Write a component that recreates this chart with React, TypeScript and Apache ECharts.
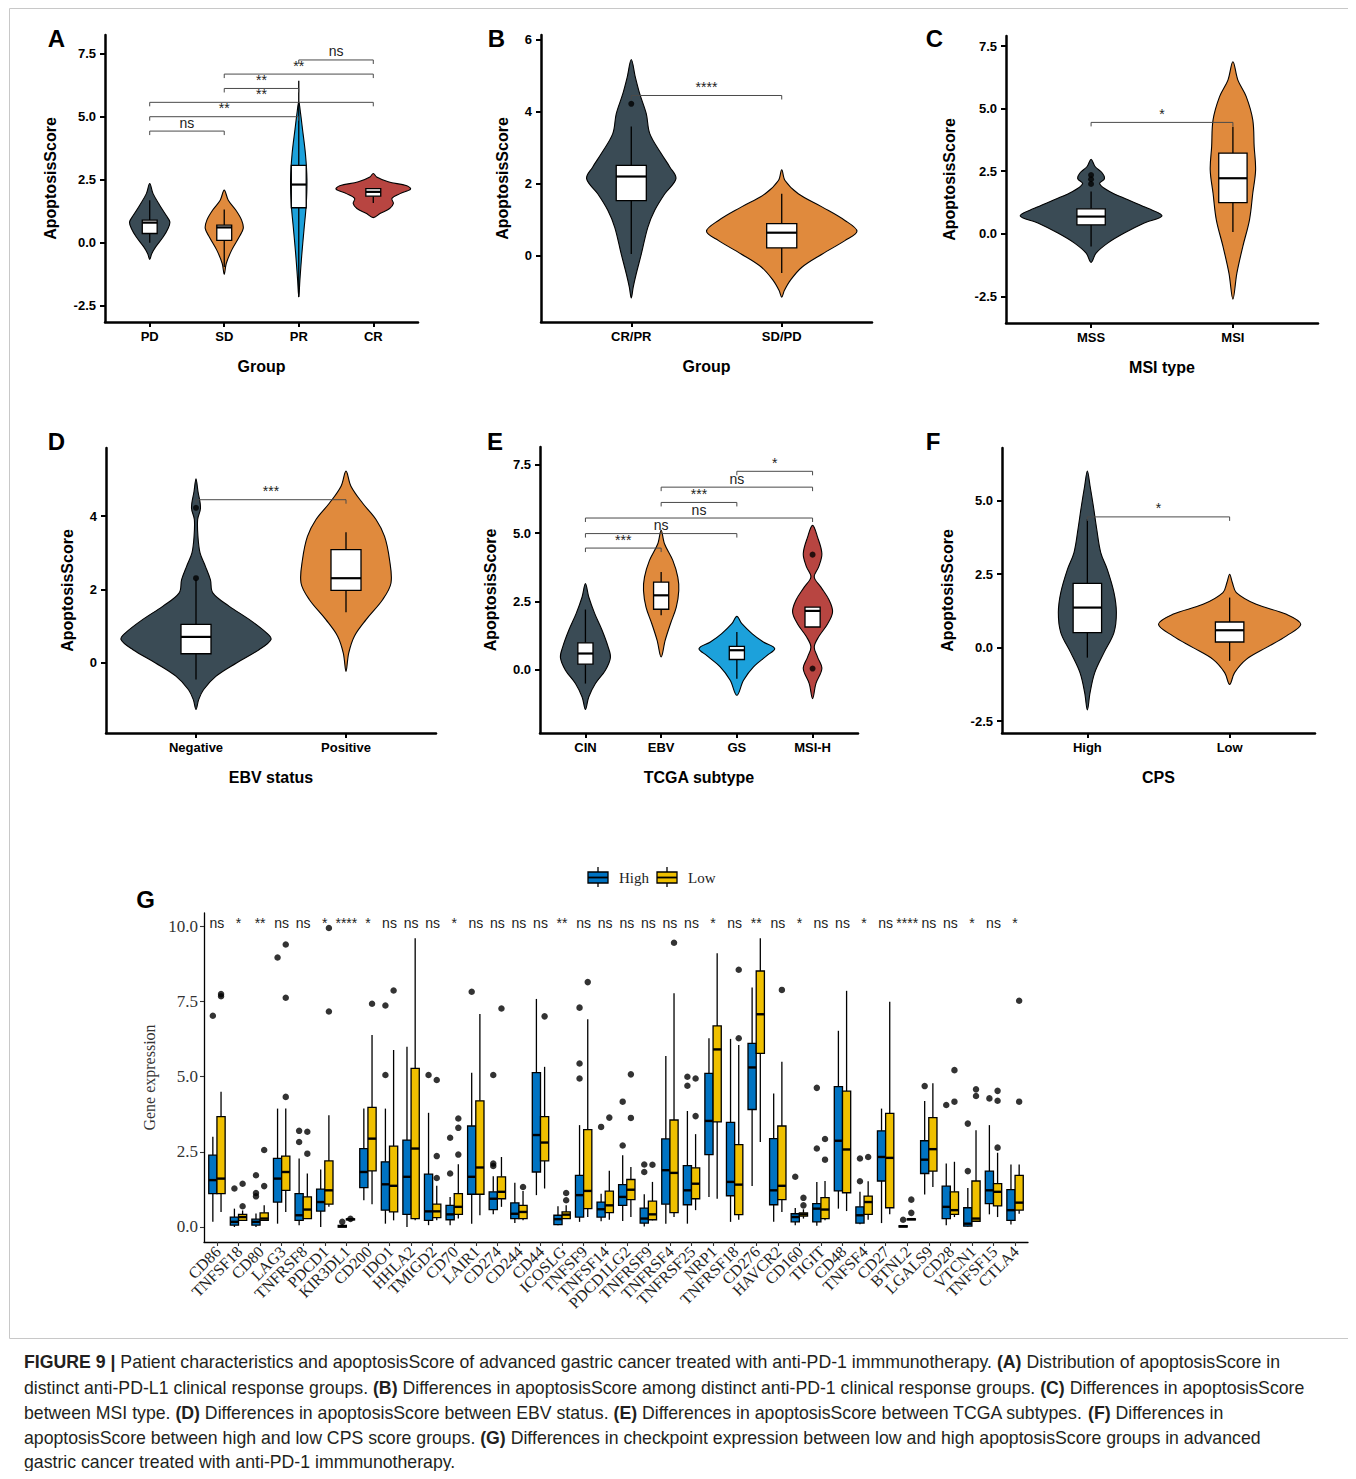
import React, { useEffect, useRef } from 'react';
import * as echarts from 'echarts';

const SANS = '"Liberation Sans", Arial, Helvetica, sans-serif';
const SERIF = '"Liberation Serif", "Times New Roman", Times, serif';
const SLATE = '#3A4B55';
const ORANGE = '#E08A3D';
const SKY = '#1CA1DB';
const RED = '#B84541';
const HIGH_BLUE = '#0073C2';
const LOW_YELLOW = '#EFC000';

// ---------- Panel A ----------
const A_cats = ['PD', 'SD', 'PR', 'CR'];
const A_violins = [
  [[2.34, 0], [1.94, 0.045], [1.48, 0.134], [1.08, 0.22], [0.82, 0.27], [0.56, 0.246], [0.22, 0.18], [-0.17, 0.08], [-0.44, 0.027], [-0.67, 0]],
  [[2.08, 0], [1.68, 0.054], [1.28, 0.157], [0.89, 0.233], [0.56, 0.255], [0.22, 0.2], [-0.3, 0.1], [-0.83, 0.027], [-1.26, 0]],
  [[5.58, 0], [5.1, 0.025], [4.5, 0.05], [3.5, 0.09], [2.5, 0.11], [1.5, 0.1], [0.5, 0.07], [-0.5, 0.04], [-1.5, 0.015], [-2.16, 0]],
  [[2.74, 0], [2.6, 0.045], [2.41, 0.2], [2.25, 0.45], [2.12, 0.5], [1.94, 0.36], [1.75, 0.25], [1.55, 0.27], [1.35, 0.22], [1.15, 0.09], [0.99, 0]],
];
const A_boxes = [[-0.01, 0.36, 0.79, 0.89, 1.68], [-0.97, 0.09, 0.6, 0.69, 1.31], [-2.16, 1.38, 2.3, 3.06, 6.42], [1.57, 1.84, 2.01, 2.14, 2.14]];
const A_outliers: number[][] = [];
const A_brackets = [[1, 2, 4.42], [1, 3, 4.99], [1, 4, 5.56], [2, 3, 6.11], [2, 4, 6.68], [3, 4, 7.24]];
const A_bracketLabels = ['ns', '**', '**', '**', '**', 'ns'];
const A_yTicks = [-2.5, 0, 2.5, 5, 7.5];

// ---------- Panel B ----------
const B_cats = ['CR/PR', 'SD/PD'];
const B_violins = [
  [[5.45, 0], [4.96, 0.027], [4.5, 0.056], [3.94, 0.1], [3.39, 0.123], [2.83, 0.2], [2.46, 0.257], [2.14, 0.297], [1.72, 0.223], [1.26, 0.156], [0.79, 0.11], [0.05, 0.067], [-0.5, 0.033], [-0.87, 0.013], [-1.17, 0]],
  [[2.39, 0], [2.09, 0.022], [1.72, 0.11], [1.35, 0.27], [0.98, 0.42], [0.68, 0.5], [0.42, 0.42], [0.05, 0.27], [-0.32, 0.134], [-0.69, 0.056], [-0.96, 0.018], [-1.15, 0]],
];
const B_boxes = [[0.05, 1.53, 2.2, 2.51, 3.59], [-0.48, 0.22, 0.64, 0.89, 1.72]];
const B_outliers = [[1, 4.22]];
const B_brackets = [[1, 2, 4.45]];
const B_bracketLabels = ['****'];
const B_yTicks = [0, 2, 4, 6];

// ---------- Panel C ----------
const C_cats = ['MSS', 'MSI'];
const C_violins = [
  [[2.98, 0], [2.69, 0.028], [2.42, 0.08], [2.2, 0.094], [2.0, 0.06], [1.69, 0.13], [1.36, 0.26], [1.02, 0.4], [0.72, 0.5], [0.43, 0.375], [0.03, 0.234], [-0.37, 0.117], [-0.77, 0.035], [-1.14, 0]],
  [[6.87, 0], [6.14, 0.035], [5.48, 0.094], [4.55, 0.14], [3.48, 0.15], [2.55, 0.16], [1.62, 0.14], [0.56, 0.117], [-0.5, 0.07], [-1.57, 0.028], [-2.61, 0]],
];
const C_boxes = [[-0.51, 0.36, 0.69, 1.0, 1.69], [0.07, 1.25, 2.22, 3.22, 4.28]];
const C_outliers = [[1, 2.35], [1, 2.18], [1, 1.99]];
const C_brackets = [[1, 2, 4.45]];
const C_bracketLabels = ['*'];
const C_yTicks = [-2.5, 0, 2.5, 5, 7.5];

// ---------- Panel D ----------
const D_cats = ['Negative', 'Positive'];
const D_violins = [
  [[5.02, 0], [4.68, 0.013], [4.23, 0.03], [3.91, 0.011], [3.45, 0.013], [3.0, 0.027], [2.64, 0.062], [2.27, 0.096], [1.91, 0.112], [1.55, 0.22], [1.18, 0.357], [0.82, 0.47], [0.64, 0.5], [0.36, 0.42], [0, 0.27], [-0.36, 0.134], [-0.73, 0.05], [-1.0, 0.018], [-1.27, 0]],
  [[5.23, 0], [4.82, 0.033], [4.36, 0.11], [3.91, 0.2], [3.45, 0.257], [2.82, 0.29], [2.18, 0.3], [1.73, 0.245], [1.18, 0.134], [0.73, 0.056], [0.27, 0.018], [-0.23, 0]],
];
const D_boxes = [[-0.45, 0.25, 0.71, 1.05, 2.27], [1.38, 1.98, 2.31, 3.09, 3.56]];
const D_outliers = [[1, 2.31], [1, 4.23]];
const D_brackets = [[1, 2, 4.45]];
const D_bracketLabels = ['***'];
const D_yTicks = [0, 2, 4];

// ---------- Panel E ----------
const E_cats = ['CIN', 'EBV', 'GS', 'MSI-H'];
const E_violins = [
  [[3.15, 0], [2.66, 0.044], [2.05, 0.123], [1.44, 0.22], [0.83, 0.3], [0.44, 0.33], [-0.02, 0.264], [-0.51, 0.132], [-1.0, 0.044], [-1.46, 0]],
  [[5.1, 0], [4.61, 0.044], [4.0, 0.154], [3.39, 0.22], [2.9, 0.233], [2.29, 0.2], [1.68, 0.123], [1.07, 0.053], [0.46, 0]],
  [[1.95, 0], [1.68, 0.066], [1.32, 0.2], [1.01, 0.35], [0.77, 0.5], [0.52, 0.4], [0.1, 0.22], [-0.39, 0.088], [-0.94, 0]],
  [[5.28, 0], [4.85, 0.066], [4.24, 0.123], [3.76, 0.08], [3.39, 0.022], [3.02, 0.11], [2.54, 0.22], [2.11, 0.264], [1.68, 0.2], [1.2, 0.08], [0.83, 0.022], [0.46, 0.066], [0.04, 0.123], [-0.51, 0.044], [-1.06, 0]],
];
const E_boxes = [[-0.51, 0.2, 0.59, 0.98, 2.2], [1.99, 2.21, 2.72, 3.2, 3.57], [-0.33, 0.37, 0.71, 0.85, 1.38], [1.56, 1.56, 2.15, 2.29, 2.29]];
const E_outliers = [[4, 4.21], [4, 0.04]];
const E_brackets = [[1, 2, 4.45], [1, 3, 4.98], [1, 4, 5.55], [2, 3, 6.12], [2, 4, 6.68], [3, 4, 7.26]];
const E_bracketLabels = ['***', 'ns', 'ns', '***', 'ns', '*'];
const E_yTicks = [0, 2.5, 5, 7.5];

// ---------- Panel F ----------
const F_cats = ['High', 'Low'];
const F_violins = [
  [[6.0, 0], [5.49, 0.019], [4.81, 0.042], [4.02, 0.066], [3.23, 0.094], [2.66, 0.14], [1.87, 0.187], [1.19, 0.204], [0.51, 0.187], [-0.17, 0.117], [-0.85, 0.052], [-1.53, 0.019], [-2.12, 0]],
  [[2.49, 0], [2.21, 0.019], [1.87, 0.047], [1.47, 0.187], [1.13, 0.4], [0.79, 0.5], [0.4, 0.4], [0, 0.257], [-0.4, 0.117], [-0.85, 0.035], [-1.25, 0]],
];
const F_boxes = [[-0.34, 0.51, 1.36, 2.18, 4.36], [-0.45, 0.19, 0.59, 0.87, 1.7]];
const F_outliers: number[][] = [];
const F_brackets = [[1, 2, 4.44]];
const F_bracketLabels = ['*'];
const F_yTicks = [-2.5, 0, 2.5, 5];

// ---------- Panel G ----------
const G_genes = ['CD86', 'TNFSF18', 'CD80', 'LAG3', 'TNFRSF8', 'PDCD1', 'KIR3DL1', 'CD200', 'IDO1', 'HHLA2', 'TMIGD2', 'CD70', 'LAIR1', 'CD274', 'CD244', 'CD44', 'ICOSLG', 'TNFSF9', 'TNFSF14', 'PDCD1LG2', 'TNFRSF9', 'TNFRSF4', 'TNFRSF25', 'NRP1', 'TNFRSF18', 'CD276', 'HAVCR2', 'CD160', 'TIGIT', 'CD48', 'TNFSF4', 'CD27', 'BTNL2', 'LGALS9', 'CD28', 'VTCN1', 'TNFSF15', 'CTLA4'];
const G_sig = ['ns', '*', '**', 'ns', 'ns', '*', '****', '*', 'ns', 'ns', 'ns', '*', 'ns', 'ns', 'ns', 'ns', '**', 'ns', 'ns', 'ns', 'ns', 'ns', 'ns', '*', 'ns', '**', 'ns', '*', 'ns', 'ns', '*', 'ns', '****', 'ns', 'ns', '*', 'ns', '*'];
// [whisker low, Q1, median, Q3, whisker high]
const G_high = [
  [0.17, 1.11, 1.56, 2.39, 3.0], [0, 0.06, 0.17, 0.33, 0.61], [0, 0.06, 0.17, 0.26, 0.45], [0.11, 0.83, 1.61, 2.28, 3.94],
  [0.06, 0.22, 0.39, 1.11, 2.28], [0, 0.53, 0.83, 1.26, 1.91], [0, 0, 0.02, 0.05, 0.08], [0.89, 1.31, 1.83, 2.61, 3.94],
  [0.11, 0.56, 1.42, 2.17, 3.94], [0, 0.42, 1.67, 2.89, 6.0], [0.06, 0.22, 0.52, 1.76, 3.8], [0.06, 0.24, 0.42, 0.72, 1.0],
  [0.11, 1.09, 1.67, 3.36, 5.13], [0.42, 0.58, 0.94, 1.17, 1.69], [0.13, 0.28, 0.44, 0.8, 1.47], [1.06, 1.83, 3.06, 5.14, 7.59],
  [0.06, 0.08, 0.26, 0.39, 0.69], [0.17, 0.33, 1.06, 1.72, 3.39], [0.19, 0.33, 0.59, 0.83, 1.11], [0.2, 0.72, 1.0, 1.41, 2.39],
  [0.02, 0.13, 0.28, 0.63, 1.09], [0.11, 0.76, 1.89, 2.93, 5.69], [0.11, 0.74, 1.22, 2.04, 3.86], [1.0, 2.41, 3.53, 5.11, 6.28],
  [0.17, 1.04, 1.5, 3.48, 6.26], [1.36, 3.91, 5.31, 6.11, 7.97], [0.17, 0.74, 1.22, 2.94, 4.44], [0.06, 0.17, 0.33, 0.44, 0.63],
  [0.04, 0.17, 0.61, 0.78, 1.5], [0.61, 1.2, 2.87, 4.67, 6.53], [0.09, 0.13, 0.39, 0.67, 1.17], [0.13, 1.53, 2.33, 3.2, 3.94],
  [0, 0, 0.02, 0.04, 0.06], [1.08, 1.78, 2.24, 2.87, 4.19], [0.06, 0.28, 0.67, 1.36, 2.11], [0.02, 0.03, 0.11, 0.64, 1.3],
  [0.42, 0.78, 1.22, 1.86, 3.39], [0.08, 0.22, 0.56, 1.24, 2.08],
];
const G_low = [
  [0.5, 1.11, 1.61, 3.67, 4.5], [0.22, 0.22, 0.33, 0.42, 0.55], [0.22, 0.22, 0.28, 0.47, 0.72], [0.5, 1.22, 1.83, 2.36, 3.94],
  [0.28, 0.28, 0.58, 1.0, 1.78], [0.67, 0.76, 1.22, 2.2, 3.72], [0.24, 0.25, 0.26, 0.27, 0.28], [0.76, 1.87, 2.94, 3.98, 6.39],
  [0.22, 0.5, 1.37, 2.69, 5.89], [0.22, 0.28, 2.61, 5.28, 9.61], [0.22, 0.31, 0.52, 0.76, 1.37], [0.28, 0.42, 0.67, 1.11, 2.09],
  [0.39, 1.09, 1.98, 4.2, 7.09], [0.67, 0.94, 1.17, 1.67, 2.33], [0.22, 0.28, 0.5, 0.72, 1.2], [1.28, 2.2, 2.81, 3.67, 5.33],
  [0.28, 0.28, 0.41, 0.5, 0.72], [0.33, 0.61, 1.2, 3.24, 6.91], [0.24, 0.48, 0.72, 1.19, 1.87], [0.33, 0.91, 1.24, 1.58, 2.0],
  [0.22, 0.24, 0.42, 0.86, 1.5], [0.33, 0.48, 1.8, 3.56, 7.78], [0.56, 0.94, 1.44, 1.97, 3.09], [0.94, 3.5, 5.91, 6.69, 9.11],
  [0.24, 0.41, 1.41, 2.74, 6.06], [2.83, 5.78, 7.08, 8.52, 9.61], [0.5, 0.91, 1.37, 3.36, 5.5], [0.28, 0.36, 0.42, 0.47, 0.59],
  [0.22, 0.28, 0.58, 0.98, 1.53], [0.53, 1.14, 2.58, 4.52, 7.86], [0.24, 0.42, 0.83, 1.03, 1.52], [0.42, 0.64, 2.3, 3.78, 7.5],
  [0.24, 0.25, 0.26, 0.27, 0.28], [1.33, 1.86, 2.59, 3.64, 4.78], [0.33, 0.42, 0.56, 1.17, 2.17], [0.17, 0.19, 0.28, 1.53, 3.22],
  [0.33, 0.7, 1.17, 1.44, 2.47], [0.44, 0.56, 0.81, 1.72, 2.08],
];
const G_highOut = [
  [7.03], [1.28], [1.02, 1.13, 1.72], [8.97], [2.83, 3.2], [], [0.17], [], [5.06, 7.37], [], [5.06], [1.78, 2.97], [7.83],
  [2.03, 2.11, 5.06], [], [], [], [4.94, 5.44, 7.3], [3.33], [2.71, 4.17], [1.83, 2.08], [], [4.7, 5.0], [], [], [], [],
  [1.67], [2.61, 4.63], [], [1.52, 2.28], [], [0.24], [4.69], [4.06], [1.86, 3.44], [4.28], [],
];
const G_lowOut = [
  [7.68, 7.75], [0.69, 1.44], [1.36, 2.56], [4.33, 7.63, 9.4], [2.44, 3.17], [7.17, 9.95], [0.27], [7.43], [7.87], [],
  [1.63, 2.36, 4.89], [2.41, 3.3, 3.61], [], [7.27], [1.33], [7.01], [0.89, 1.13], [8.15], [3.64], [3.63, 5.08], [2.07],
  [9.46], [3.69, 4.94], [], [6.28, 8.56], [], [7.89], [0.72, 0.97], [2.24, 2.93], [], [2.33], [], [0.47, 0.91], [],
  [4.17, 5.22], [4.36, 4.58], [2.64, 4.2, 4.53], [4.17, 7.53],
];
const G_yTicks = [0, 2.5, 5, 7.5, 10];

const CAPTION = [
  '{b|FIGURE 9 |} Patient characteristics and apoptosisScore of advanced gastric cancer treated with anti-PD-1 immmunotherapy. {b|(A)} Distribution of apoptosisScore in',
  'distinct anti-PD-L1 clinical response groups. {b|(B)} Differences in apoptosisScore among distinct anti-PD-1 clinical response groups. {b|(C)} Differences in apoptosisScore',
  'between MSI type. {b|(D)} Differences in apoptosisScore between EBV status. {b|(E)} Differences in apoptosisScore between TCGA subtypes. {b|(F)} Differences in',
  'apoptosisScore between high and low CPS score groups. {b|(G)} Differences in checkpoint expression between low and high apoptosisScore groups in advanced',
  'gastric cancer treated with anti-PD-1 immmunotherapy.',
];

type PanelDef = {
  letter: string; lx: number; ly: number;
  left: number; top: number; width: number; height: number;
  ymin: number; ymax: number; yTicks: number[]; dec: number; yGap: number;
  cats: string[]; xName: string; colors: string[];
  violins: number[][][]; boxes: number[][]; outliers: number[][];
  brackets: number[][]; bracketLabels: string[];
};

const PANELS: PanelDef[] = [
  { letter: 'A', lx: 48.5, ly: 30.5, left: 97, top: 27, width: 313, height: 287, ymin: -3.15, ymax: 8.23, yTicks: A_yTicks, dec: 1, yGap: 47, cats: A_cats, xName: 'Group', colors: [SLATE, ORANGE, SKY, RED], violins: A_violins, boxes: A_boxes, outliers: A_outliers, brackets: A_brackets, bracketLabels: A_bracketLabels },
  { letter: 'B', lx: 488.5, ly: 30.5, left: 533, top: 27, width: 331, height: 287, ymin: -1.84, ymax: 6.13, yTicks: B_yTicks, dec: 0, yGap: 31, cats: B_cats, xName: 'Group', colors: [SLATE, ORANGE], violins: B_violins, boxes: B_boxes, outliers: B_outliers, brackets: B_brackets, bracketLabels: B_bracketLabels },
  { letter: 'C', lx: 926.5, ly: 30, left: 998, top: 28, width: 312, height: 287, ymin: -3.56, ymax: 7.9, yTicks: C_yTicks, dec: 1, yGap: 49, cats: C_cats, xName: 'MSI type', colors: [SLATE, ORANGE], violins: C_violins, boxes: C_boxes, outliers: C_outliers, brackets: C_brackets, bracketLabels: C_bracketLabels },
  { letter: 'D', lx: 48.5, ly: 433, left: 98, top: 440, width: 330, height: 285, ymin: -1.91, ymax: 5.86, yTicks: D_yTicks, dec: 0, yGap: 31, cats: D_cats, xName: 'EBV status', colors: [SLATE, ORANGE], violins: D_violins, boxes: D_boxes, outliers: D_outliers, brackets: D_brackets, bracketLabels: D_bracketLabels },
  { letter: 'E', lx: 487, ly: 433, left: 532, top: 439, width: 318, height: 286, ymin: -2.32, ymax: 8.15, yTicks: E_yTicks, dec: 1, yGap: 42, cats: E_cats, xName: 'TCGA subtype', colors: [SLATE, ORANGE, SKY, RED], violins: E_violins, boxes: E_boxes, outliers: E_outliers, brackets: E_brackets, bracketLabels: E_bracketLabels },
  { letter: 'F', lx: 925, ly: 433, left: 994, top: 440, width: 313, height: 285, ymin: -2.9, ymax: 6.78, yTicks: F_yTicks, dec: 1, yGap: 47, cats: F_cats, xName: 'CPS', colors: [SLATE, ORANGE], violins: F_violins, boxes: F_boxes, outliers: F_outliers, brackets: F_brackets, bracketLabels: F_bracketLabels },
];

function boxRenderer(stats: number[][], halfW: number, fill: (i: number) => string, lw: number, medW: number) {
  return (params: any, api: any) => {
    const i = params.dataIndex;
    const x = api.value(0) as number;
    const [lo, q1, med, q3, hi] = stats[i];
    const tl = api.coord([x - halfW, q3]);
    const br = api.coord([x + halfW, q1]);
    const mL = api.coord([x - halfW, med]);
    const mR = api.coord([x + halfW, med]);
    const top = api.coord([x, hi]);
    const q3p = api.coord([x, q3]);
    const q1p = api.coord([x, q1]);
    const bot = api.coord([x, lo]);
    const stroke = '#000';
    return {
      type: 'group',
      children: [
        { type: 'line', shape: { x1: top[0], y1: top[1], x2: q3p[0], y2: q3p[1] }, style: { stroke, lineWidth: lw } },
        { type: 'line', shape: { x1: q1p[0], y1: q1p[1], x2: bot[0], y2: bot[1] }, style: { stroke, lineWidth: lw } },
        { type: 'rect', shape: { x: tl[0], y: tl[1], width: br[0] - tl[0], height: Math.max(br[1] - tl[1], 1) }, style: { fill: fill(i), stroke, lineWidth: lw } },
        { type: 'line', shape: { x1: mL[0], y1: mL[1], x2: mR[0], y2: mR[1] }, style: { stroke, lineWidth: medW } },
      ],
    };
  };
}

function buildOption() {
  const grid: any[] = [];
  const xAxis: any[] = [];
  const yAxis: any[] = [];
  const series: any[] = [];
  const graphic: any[] = [];

  PANELS.forEach((p, gi) => {
    grid.push({ left: p.left, top: p.top, width: p.width, height: p.height });
    const xt = p.cats.map((_, i) => i + 1);
    xAxis.push({
      type: 'value', gridIndex: gi, min: 0.4, max: p.cats.length + 0.6,
      axisLine: { show: true, onZero: false, lineStyle: { color: '#000', width: 2.5 } },
      axisTick: { show: true, customValues: xt, length: 5, lineStyle: { color: '#000', width: 2 } },
      axisLabel: { show: true, customValues: xt, formatter: (v: number) => p.cats[Math.round(v) - 1] ?? '', color: '#000', fontFamily: SANS, fontWeight: 'bold', fontSize: 13, margin: 8 },
      splitLine: { show: false },
      name: p.xName, nameLocation: 'middle', nameGap: 36,
      nameTextStyle: { color: '#000', fontFamily: SANS, fontWeight: 'bold', fontSize: 16 },
    });
    yAxis.push({
      type: 'value', gridIndex: gi, min: p.ymin, max: p.ymax,
      axisLine: { show: true, onZero: false, lineStyle: { color: '#000', width: 2.5 } },
      axisTick: { show: true, customValues: p.yTicks, length: 5, lineStyle: { color: '#000', width: 2 } },
      axisLabel: { show: true, customValues: p.yTicks, formatter: (v: number) => v.toFixed(p.dec), color: '#000', fontFamily: SANS, fontWeight: 'bold', fontSize: 13, margin: 9 },
      splitLine: { show: false },
      name: 'ApoptosisScore', nameLocation: 'middle', nameGap: p.yGap,
      nameTextStyle: { color: '#000', fontFamily: SANS, fontWeight: 'bold', fontSize: 16 },
    });
    // violins
    series.push({
      type: 'custom', xAxisIndex: gi, yAxisIndex: gi, z: 2, clip: false,
      data: p.violins.map((_, i) => [i + 1, 0]), encode: { x: 0, y: 1 },
      renderItem: (params: any, api: any) => {
        const i = params.dataIndex;
        const x = i + 1;
        const prof = p.violins[i];
        const right = prof.map(([v, hw]) => api.coord([x + hw, v]));
        const left = prof.slice().reverse().map(([v, hw]) => api.coord([x - hw, v]));
        const pts = right.concat(left.slice(1, -1));
        return { type: 'polygon', shape: { points: pts, smooth: 0.35 }, style: { fill: p.colors[i], stroke: '#000', lineWidth: 1.1 } };
      },
    });
    // boxes
    series.push({
      type: 'custom', xAxisIndex: gi, yAxisIndex: gi, z: 3, clip: false,
      data: p.boxes.map((b, i) => [i + 1, b[2]]), encode: { x: 0, y: 1 },
      renderItem: boxRenderer(p.boxes, 0.1, () => '#fff', 1.3, 2.2),
    });
    if (p.outliers.length) {
      series.push({
        type: 'scatter', xAxisIndex: gi, yAxisIndex: gi, z: 4, data: p.outliers,
        symbolSize: 6, itemStyle: { color: '#000' }, silent: true,
      });
    }
    // significance brackets
    series.push({
      type: 'custom', xAxisIndex: gi, yAxisIndex: gi, z: 4, clip: false,
      data: p.brackets.map((b) => [b[0], b[2]]), encode: { x: 0, y: 1 },
      renderItem: (params: any, api: any) => {
        const i = params.dataIndex;
        const [a, b, y] = p.brackets[i];
        const p1 = api.coord([a, y]);
        const p2 = api.coord([b, y]);
        const t = 4;
        return {
          type: 'group',
          children: [
            { type: 'polyline', shape: { points: [[p1[0], p1[1] + t], [p1[0], p1[1]], [p2[0], p2[1]], [p2[0], p2[1] + t]] }, style: { stroke: '#4a4a4a', lineWidth: 1, fill: 'none' } },
            { type: 'text', x: (p1[0] + p2[0]) / 2, y: p1[1] - 1.5, style: { text: p.bracketLabels[i], fontSize: 14, fontFamily: SANS, fill: '#222', align: 'center', verticalAlign: 'bottom' } },
          ],
        };
      },
    });
    graphic.push({ type: 'text', x: p.lx, y: p.ly, style: { text: p.letter, fontSize: 24, fontWeight: 'bold', fontFamily: SANS, fill: '#000', align: 'center', verticalAlign: 'middle' } });
  });

  // Panel G
  const gi = PANELS.length;
  const G_ymin = -0.5;
  grid.push({ left: 196, top: 905, width: 824, height: 329 });
  const gx = G_genes.map((_, i) => i + 1);
  xAxis.push({
    type: 'value', gridIndex: gi, min: 0.4, max: G_genes.length + 0.6,
    axisLine: { show: true, onZero: false, lineStyle: { color: '#000', width: 1.3 } },
    axisTick: { show: true, customValues: gx, length: 4, lineStyle: { color: '#333', width: 1.1 } },
    axisLabel: { show: false },
    splitLine: { show: false },
  });
  yAxis.push({
    type: 'value', gridIndex: gi, min: G_ymin, max: 10.45,
    axisLine: { show: true, onZero: false, lineStyle: { color: '#000', width: 1.3 } },
    axisTick: { show: true, customValues: G_yTicks, length: 4, lineStyle: { color: '#333', width: 1.1 } },
    axisLabel: { show: true, customValues: G_yTicks, formatter: (v: number) => v.toFixed(1), color: '#333', fontFamily: SERIF, fontSize: 17, margin: 6 },
    splitLine: { show: false },
    name: 'Gene expression', nameLocation: 'middle', nameGap: 41,
    nameTextStyle: { color: '#333', fontFamily: SERIF, fontSize: 16 },
  });
  // gene labels (rotated 45°), placed through the axis scale
  series.push({
    type: 'custom', xAxisIndex: gi, yAxisIndex: gi, z: 4, clip: false,
    data: gx.map((x) => [x, G_ymin]), encode: { x: 0, y: 1 },
    renderItem: (params: any, api: any) => {
      const pt = api.coord([api.value(0), api.value(1)]);
      return {
        type: 'text', x: pt[0] + 1, y: pt[1] + 7, rotation: Math.PI / 4,
        style: { text: G_genes[params.dataIndex], fontSize: 16, fontFamily: SERIF, fill: '#222', align: 'right', verticalAlign: 'middle' },
      };
    },
  });
  const off = 0.19;
  series.push({
    type: 'custom', xAxisIndex: gi, yAxisIndex: gi, z: 3, clip: false,
    data: G_high.map((b, i) => [i + 1 - off, b[2]]), encode: { x: 0, y: 1 },
    renderItem: boxRenderer(G_high, 0.19, () => HIGH_BLUE, 1.3, 2.4),
  });
  series.push({
    type: 'custom', xAxisIndex: gi, yAxisIndex: gi, z: 3, clip: false,
    data: G_low.map((b, i) => [i + 1 + off, b[2]]), encode: { x: 0, y: 1 },
    renderItem: boxRenderer(G_low, 0.19, () => LOW_YELLOW, 1.3, 2.4),
  });
  const hOut: number[][] = [];
  G_highOut.forEach((arr, i) => arr.forEach((v) => hOut.push([i + 1 - off, v])));
  const lOut: number[][] = [];
  G_lowOut.forEach((arr, i) => arr.forEach((v) => lOut.push([i + 1 + off, v])));
  series.push({ type: 'scatter', xAxisIndex: gi, yAxisIndex: gi, z: 4, data: hOut, symbolSize: 6.5, itemStyle: { color: '#000' }, silent: true });
  series.push({ type: 'scatter', xAxisIndex: gi, yAxisIndex: gi, z: 4, data: lOut, symbolSize: 6.5, itemStyle: { color: '#000' }, silent: true });
  series.push({
    type: 'custom', xAxisIndex: gi, yAxisIndex: gi, z: 4, clip: false,
    data: G_sig.map((_, i) => [i + 1, 10.12]), encode: { x: 0, y: 1 },
    renderItem: (params: any, api: any) => {
      const pt = api.coord([api.value(0), api.value(1)]);
      return { type: 'text', x: pt[0], y: pt[1], style: { text: G_sig[params.dataIndex], fontSize: 14, fontFamily: SANS, fill: '#222', align: 'center', verticalAlign: 'middle' } };
    },
  });

  // frame
  graphic.unshift({ type: 'rect', shape: { x: 1.5, y: 0.5, width: 1342, height: 1330 }, style: { fill: 'none', stroke: '#c8c8c8', lineWidth: 1 }, z: -1 });
  graphic.push({ type: 'text', x: 137.5, y: 891, style: { text: 'G', fontSize: 24, fontWeight: 'bold', fontFamily: SANS, fill: '#000', align: 'center', verticalAlign: 'middle' } });

  // legend for G
  const legendItem = (x0: number, color: string, label: string) => [
    { type: 'line', shape: { x1: x0 + 10, y1: 859, x2: x0 + 10, y2: 879 }, style: { stroke: '#000', lineWidth: 1.3 } },
    { type: 'rect', shape: { x: x0, y: 864, width: 20, height: 11 }, style: { fill: color, stroke: '#000', lineWidth: 1.3 } },
    { type: 'line', shape: { x1: x0, y1: 869.5, x2: x0 + 20, y2: 869.5 }, style: { stroke: '#000', lineWidth: 1.8 } },
    { type: 'text', x: x0 + 31, y: 869.5, style: { text: label, fontSize: 15, fontFamily: SERIF, fill: '#222', align: 'left', verticalAlign: 'middle' } },
  ];
  graphic.push(...legendItem(580, HIGH_BLUE, 'High'));
  graphic.push(...legendItem(649, LOW_YELLOW, 'Low'));

  // caption
  const capY = [1354, 1380, 1405, 1430, 1454];
  const capSize = 17.7;
  CAPTION.forEach((line, i) => {
    graphic.push({
      type: 'text', x: 16, y: capY[i],
      style: {
        text: line, fontSize: capSize, fontFamily: SANS, fill: '#231f20', align: 'left', verticalAlign: 'middle',
        rich: { b: { fontWeight: 'bold', fontSize: capSize, fontFamily: SANS, fill: '#231f20' } },
      },
    });
  });

  return {
    animation: false,
    backgroundColor: '#fff',
    grid, xAxis, yAxis, series, graphic,
  };
}

export default function App() {
  const ref = useRef<HTMLDivElement>(null);
  useEffect(() => {
    if (!ref.current) return;
    const chart = echarts.init(ref.current, undefined, { renderer: 'svg' });
    chart.setOption(buildOption() as any);
    return () => chart.dispose();
  }, []);
  return <div ref={ref} style={{ width: 1348, height: 1463 }} />;
}
